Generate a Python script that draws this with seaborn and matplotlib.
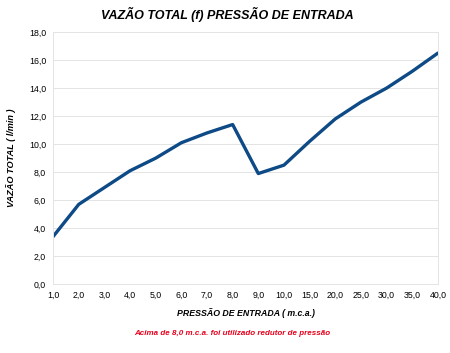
import numpy as np
import matplotlib
matplotlib.use("Agg")
import matplotlib.pyplot as plt
import pandas as pd
import seaborn as sns

pressao = ['1,0', '2,0', '3,0', '4,0', '5,0', '6,0', '7,0', '8,0', '9,0', '10,0',
           '15,0', '20,0', '25,0', '30,0', '35,0', '40,0']
vazao = [3.4, 5.7, 6.9, 8.1, 9.0, 10.1, 10.8, 11.4, 7.9, 8.5,
         10.2, 11.8, 13.0, 14.0, 15.2, 16.5]

df = pd.DataFrame({'pressao': pressao, 'vazao': vazao})

sns.set_style('white')
plt.rcParams['font.family'] = ['Liberation Sans', 'DejaVu Sans']
plt.rcParams['text.color'] = 'black'
plt.rcParams['axes.labelcolor'] = 'black'
plt.rcParams['xtick.color'] = 'black'
plt.rcParams['ytick.color'] = 'black'

fig = plt.figure(figsize=(4.5, 3.53), dpi=100)
ax = fig.add_axes([0.118, 0.195, 0.855, 0.714])

sns.lineplot(data=df, x='pressao', y='vazao', sort=False, color='#0d4a86',
             linewidth=2.4, ax=ax)

ax.set_xlim(0, len(pressao) - 1)
ax.set_ylim(0, 18)
yt = np.arange(0, 18.1, 2)
ax.set_yticks(yt)
ax.set_yticklabels([f'{v:.1f}'.replace('.', ',') for v in yt])
ax.yaxis.grid(True, color='#e4e4e4', linewidth=0.7)
ax.set_axisbelow(True)
ax.spines['top'].set_visible(False)
for s in ['left', 'right', 'bottom']:
    ax.spines[s].set_color('#e4e4e4')
    ax.spines[s].set_linewidth(0.7)
ax.tick_params(axis='both', labelsize=6.3, length=2, color='#d8d8d8', pad=3)

ax.set_xlabel('PRESSÃO DE ENTRADA ( m.c.a.)', fontsize=6.3, fontweight='bold',
              fontstyle='italic', labelpad=6)
ax.set_ylabel('VAZÃO TOTAL ( l/min )', fontsize=6.6, fontweight='bold',
              fontstyle='italic', labelpad=9)

fig.text(0.506, 0.96, 'VAZÃO TOTAL (f) PRESSÃO DE ENTRADA', ha='center', va='center',
         fontsize=9, fontweight='bold', fontstyle='italic')
fig.text(0.515, 0.055, 'Acima de 8,0 m.c.a. foi utilizado redutor de pressão',
         ha='center', va='center', fontsize=5.8, fontweight='bold',
         fontstyle='italic', color='#e8001c')

fig.savefig('out.png', dpi=100)
